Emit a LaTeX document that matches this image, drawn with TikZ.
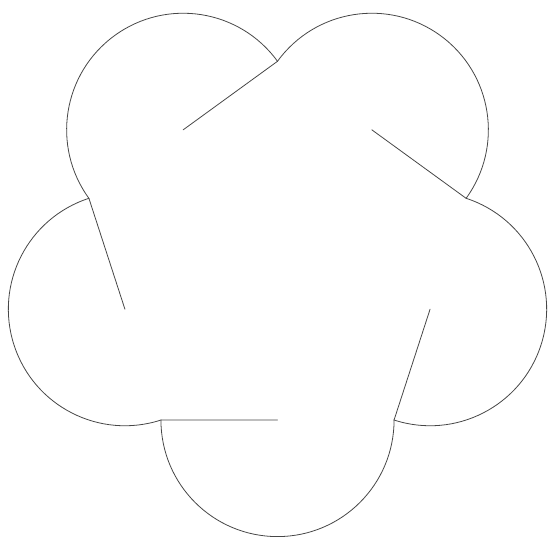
\documentclass[tikz,border=0pt]{standalone}
\begin{document}
\begin{tikzpicture}[x=1pt,y=1pt,
  knot/.style={draw=black!72, line width=0.8pt, line join=round, line cap=round}]
\useasboundingbox (0,0) rectangle (548,540);
\coordinate (O) at (277.5,280.4);
\foreach \k in {0,...,4}{
  \pgfmathsetmacro\a{90+72*\k}
  \pgfmathsetmacro\m{\a+36}
  \pgfmathsetmacro\s{\a-54}
  \pgfmathsetmacro\e{\a+126}
  \coordinate (V\k) at ([shift={(\a:198.3pt)}]O);
  \coordinate (M\k) at ([shift={(\m:160.43pt)}]O);
  \draw[knot] (V\k) -- (M\k);
  \draw[knot] (V\k) arc[start angle=\s, end angle=\e, radius=116.56pt];
}
\end{tikzpicture}
\end{document}
